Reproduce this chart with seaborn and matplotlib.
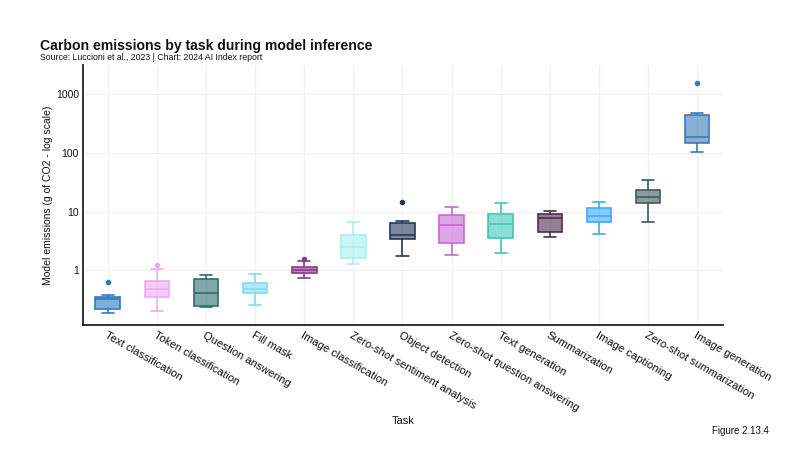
import numpy as np
import pandas as pd
import matplotlib
matplotlib.use("Agg")
import matplotlib.pyplot as plt
import seaborn as sns

# tasks, in plot order
tasks = ["Text classification", "Token classification", "Question answering",
         "Fill mask", "Image classification", "Zero-shot sentiment analysis",
         "Object detection", "Zero-shot question answering", "Text generation",
         "Summarization", "Image captioning", "Zero-shot summarization",
         "Image generation"]

# emissions per model (g of CO2)
text_classification = [0.184, 0.215, 0.215, 0.32, 0.32, 0.345, 0.345, 0.37, 0.63]
token_classification = [0.2, 0.345, 0.345, 0.47, 0.47, 0.65, 0.65, 1.04, 1.2]
question_answering = [0.23, 0.24, 0.24, 0.40, 0.40, 0.70, 0.70, 0.82, 0.82]
fill_mask = [0.25, 0.40, 0.40, 0.47, 0.47, 0.59, 0.59, 0.84, 0.84]
image_classification = [0.73, 0.89, 0.89, 1.0, 1.0, 1.13, 1.13, 1.43, 1.52]
zs_sentiment = [1.27, 1.6, 1.6, 2.47, 2.47, 3.96, 3.96, 6.6, 6.6]
object_detection = [1.73, 3.39, 3.39, 3.96, 3.96, 6.35, 6.35, 6.9, 14.5]
zs_question_answering = [1.8, 2.9, 2.9, 5.9, 5.9, 8.7, 8.7, 11.9, 11.9]
text_generation = [1.95, 3.5, 3.5, 6.1, 6.1, 9.06, 9.06, 13.9, 13.9]
summarization = [3.66, 4.46, 4.46, 7.7, 7.7, 9.06, 9.06, 10.2, 10.2]
image_captioning = [4.1, 6.6, 6.6, 8.4, 8.4, 11.5, 11.5, 14.5, 14.5]
zs_summarization = [6.6, 14, 14, 17.7, 17.7, 23.3, 23.3, 34.4, 34.4]
image_generation = [104, 148, 148, 188, 188, 446, 446, 483, 1574]

values = [text_classification, token_classification, question_answering,
          fill_mask, image_classification, zs_sentiment, object_detection,
          zs_question_answering, text_generation, summarization,
          image_captioning, zs_summarization, image_generation]

colors = ["#2f7bbf", "#eeaaf2", "#2a6f6c", "#7fdcf5", "#8a3a8c", "#a8f0f2",
          "#25385a", "#c868d8", "#3cc8b8", "#4e2e4c", "#3caaf8", "#3d5a5a",
          "#3a7ab8"]

df = pd.DataFrame({
    "task": np.repeat(tasks, [len(v) for v in values]),
    "emissions": np.concatenate(values),
})

sns.set_style("white")
plt.rcParams["font.family"] = ["Liberation Sans", "DejaVu Sans"]

fig = plt.figure(figsize=(8, 4.61), dpi=100)
ax = fig.add_axes([0.104, 0.295, 0.80, 0.564])

sns.boxplot(data=df, x="task", y="emissions", hue="task", order=tasks,
            hue_order=tasks, palette=colors, legend=False, width=0.5,
            whis=1.5, linewidth=1.2, ax=ax,
            flierprops=dict(marker="o", markersize=3))
ax.set_yscale("log")

# colour boxes and lines per task
for p in ax.patches:
    i = int(round(p.get_path().vertices[:, 0].mean()))
    p.set_facecolor(matplotlib.colors.to_rgba(colors[i], 0.6))
    p.set_edgecolor(colors[i])
for ln in ax.lines:
    xd = np.asarray(ln.get_xdata(), dtype=float)
    if len(xd) == 0:
        continue
    i = int(round(xd.mean()))
    ln.set_color(colors[i])
    ln.set_markerfacecolor(colors[i])
    ln.set_markeredgecolor(colors[i])

ax.set_xlim(-0.5, 12.53)
ax.set_ylim(0.115, 3190)
ax.set_yticks([1, 10, 100, 1000])
ax.set_yticklabels(["1", "10", "100", "1000"])
ax.yaxis.set_minor_locator(matplotlib.ticker.NullLocator())
ax.grid(True, color="#f0f0f0", linewidth=0.9)
ax.set_axisbelow(True)
for s in ["top", "right"]:
    ax.spines[s].set_visible(False)
for s in ["left", "bottom"]:
    ax.spines[s].set_color("#222222")
    ax.spines[s].set_linewidth(1.3)
ax.tick_params(axis="both", length=0, labelsize=7.5, colors="#111111")
ax.tick_params(axis="y", pad=3)
ax.tick_params(axis="x", pad=4)
plt.setp(ax.get_xticklabels(), rotation=-30, ha="left", va="top",
         rotation_mode="anchor", fontsize=8.1)

ax.set_xlabel("")
ax.set_ylabel("Model emissions (g of CO2 - log scale)", fontsize=7.5,
              labelpad=2, color="#111111")

fig.text(0.05, 1 - 39 / 461, "Carbon emissions by task during model inference",
         fontsize=10.1, fontweight="bold", va="top", color="#111111")
fig.text(0.05, 1 - 53 / 461, "Source: Luccioni et al., 2023 | Chart: 2024 AI Index report",
         fontsize=6.3, va="top", color="#111111")
fig.text(0.504, 1 - 421 / 461, "Task", fontsize=8, ha="center", va="center",
         color="#111111")
fig.text(0.926, 1 - 431 / 461, "Figure 2.13.4", fontsize=7, ha="center",
         va="center", color="#111111")

fig.savefig("out.png", dpi=100)
